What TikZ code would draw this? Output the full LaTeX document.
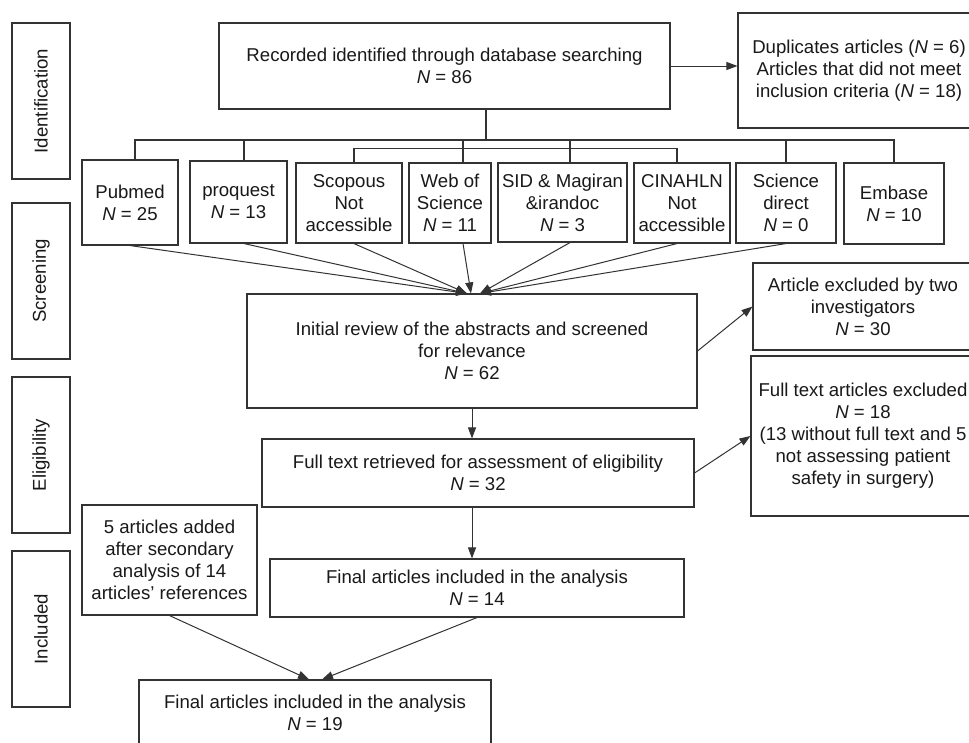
\documentclass[tikz,border=0pt]{standalone}
\usepackage{fontspec}
\setmainfont{Liberation Sans}
\usetikzlibrary{arrows.meta}
\newcommand{\myfs}{\fontsize{18.6}{22}\selectfont}
\begin{document}
\begin{tikzpicture}[x=1pt,y=-1pt,
  box/.style={draw=black!80, line width=1.1pt, align=center, inner sep=2pt, text=black!90, font=\myfs},
  ln/.style={draw=black!80, line width=1.1pt},
  arr/.style={draw=black!80, line width=1pt, -{Triangle[length=11pt,width=8pt]}}]
\useasboundingbox[fill=white] (0,0) rectangle (969,742);

% stage labels
\node[box, rotate=90, minimum width=156pt, minimum height=58pt] (idl) at (41,101) {Identification};
\node[box, rotate=90, minimum width=156pt, minimum height=58pt] (scl) at (41,281) {Screening};
\node[box, rotate=90, minimum width=156pt, minimum height=58pt] (ell) at (41,455) {Eligibility};
\node[box, rotate=90, minimum width=156pt, minimum height=58pt] (inl) at (41,629) {Included};

% main boxes
\node[box, minimum width=451pt, minimum height=86pt] (rec) at (444.5,66) {Recorded identified through database searching\\\textit{N} = 86};
\node[box, minimum width=242pt, minimum height=115pt] (dup) at (859,70.5) {Duplicates articles (\textit{N} = 6)\\Articles that did not meet\\inclusion criteria (\textit{N} = 18)};

\node[box, minimum width=96pt, minimum height=85pt] (pub) at (130,202.5) {Pubmed\\\textit{N} = 25};
\node[box, minimum width=97pt, minimum height=82pt] (pro) at (238.5,202) {proquest\\\textit{N} = 13};
\node[box, minimum width=106pt, minimum height=80pt] (sco) at (349,203) {Scopous\\Not\\accessible};
\node[box, minimum width=82pt, minimum height=80pt] (wos) at (450,203) {Web of\\Science\\\textit{N} = 11};
\node[box, minimum width=129pt, minimum height=79pt] (sid) at (562.5,202.5) {SID \& Magiran\\\&irandoc\\\textit{N} = 3};
\node[box, minimum width=96pt, minimum height=80pt] (cin) at (682,203) {CINAHLN\\Not\\accessible};
\node[box, minimum width=100pt, minimum height=80pt] (sd) at (786,203) {Science\\direct\\\textit{N} = 0};
\node[box, minimum width=100pt, minimum height=81pt] (emb) at (894,203.5) {Embase\\\textit{N} = 10};

\node[box, minimum width=450pt, minimum height=114pt] (irv) at (472,351) {Initial review of the abstracts and screened\\for relevance\\\textit{N} = 62};
\node[box, minimum width=220pt, minimum height=87pt] (ex1) at (863,306.5) {Article excluded by two\\investigators\\\textit{N} = 30};

\node[box, minimum width=432pt, minimum height=68pt] (fte) at (478,473) {Full text retrieved for assessment of eligibility\\\textit{N} = 32};
\node[box, minimum width=224pt, minimum height=160pt] (ex2) at (863,436) {Full text articles excluded\\\textit{N} = 18\\(13 without full text and 5\\not assessing patient\\safety in surgery)};

\node[box, minimum width=175pt, minimum height=110pt] (add) at (169.5,560) {5 articles added\\after secondary\\analysis of 14\\articles’ references};
\node[box, minimum width=414pt, minimum height=58pt] (f14) at (477,588) {Final articles included in the analysis\\\textit{N} = 14};
\node[box, minimum width=352pt, minimum height=65pt] (f19) at (315,712.5) {Final articles included in the analysis\\\textit{N} = 19};

% tree
\coordinate (bus) at (486,140);
\draw[ln] (rec.south -| bus) -- (bus);
\foreach \n/\s in {pub/5,pro/5.5,wos/13,sid/7.5,sd/0,emb/0}
  \draw[ln] (bus) -| ([xshift=\s pt]\n.north);
\draw[ln] ([xshift=5pt]sco.north) -- ++(0,-14) -| ([xshift=-5pt]cin.north);

% arrows into initial review
\foreach \n/\s/\t in {pub/0/-5,pro/5.5/-5,sco/5/-5,wos/13/-1,sid/7.5/8,cin/-5/8,sd/0/8}
  \draw[arr] ([xshift=\s pt]\n.south) -- ([xshift=\t pt]irv.north);

\draw[arr] (rec.east) -- (rec.east -| dup.west);
\draw[arr] (irv.east) -- (ex1.west);
\draw[arr] (irv.south) -- (irv.south |- fte.north);
\draw[arr] (fte.east) -- (ex2.west);
\draw[arr] (fte.south -| irv.south) -- (f14.north -| irv.south);
\draw[arr] (add.south) -- ([xshift=-6pt]f19.north);
\draw[arr] (f14.south) -- ([xshift=7pt]f19.north);
\end{tikzpicture}
\end{document}
